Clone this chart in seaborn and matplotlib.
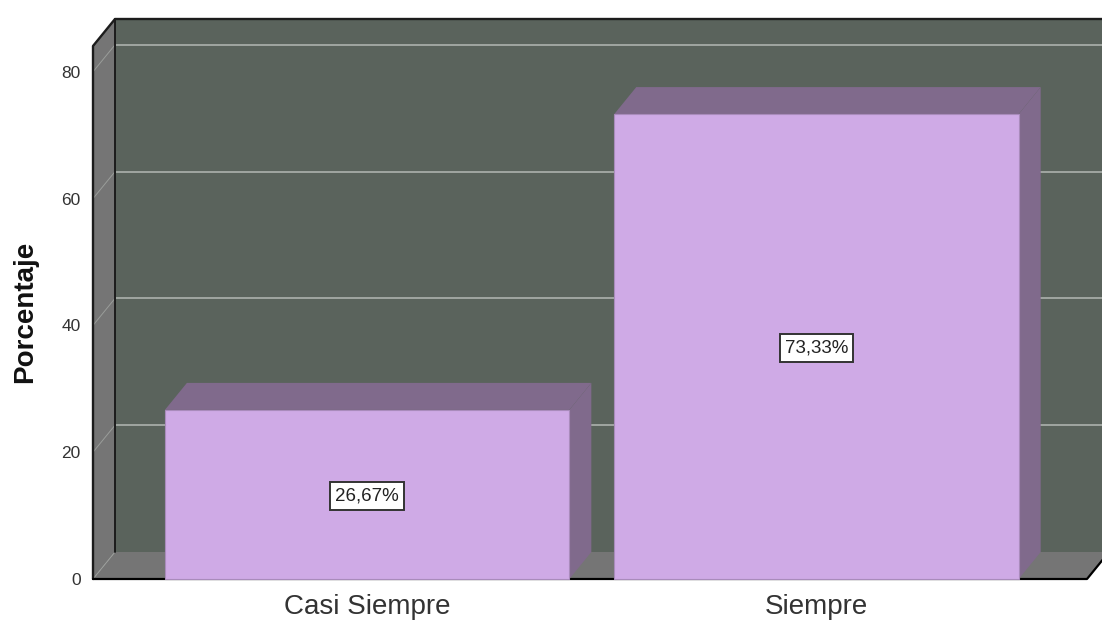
import matplotlib
matplotlib.use("Agg")
import matplotlib.pyplot as plt
from matplotlib.patches import Polygon
import pandas as pd
import seaborn as sns

categories = ["Casi Siempre", "Siempre"]
percentages = [26.67, 73.33]
bar_labels = ["26,67%", "73,33%"]
y_ticks = [0, 20, 40, 60, 80]

# colours
wall_color = "#5a635c"
side_color = "#757575"
bar_color = "#cfaae6"
bar_dark = "#806a8c"
grid_color = "#b4b8b4"
edge_color = "#1c1c1c"

sns.set_theme(style="white")
plt.rcParams["font.family"] = ["Liberation Sans", "DejaVu Sans"]

W, H = 1102, 620
fig = plt.figure(figsize=(W / 100, H / 100), dpi=100)
ax = fig.add_axes([93 / W, (H - 579) / H, (1087 - 93) / W, (579 - 46) / H])

df = pd.DataFrame({"cat": categories, "pct": percentages})
sns.barplot(data=df, x="cat", y="pct", color=bar_color, saturation=1, width=0.9,
            edgecolor="#a98bbb", linewidth=0.8, zorder=5, clip_on=False, ax=ax)

ax.set_xlim(-0.61, 1.602)
ax.set_ylim(0, 84.07)

# depth of the fake 3D box, in data units
dx = 22 / (994 / (1.602 + 0.61))
dy = 27 / (533 / 84.07)
x0, x1 = ax.get_xlim()
y0, y1 = ax.get_ylim()


def poly(pts, color, z):
    ax.add_patch(Polygon(pts, closed=True, facecolor=color, edgecolor="none",
                         clip_on=False, zorder=z))


def line(xs, ys, color, lw, z):
    ax.plot(xs, ys, color=color, lw=lw, clip_on=False, zorder=z,
            solid_capstyle="round")


# back wall, left wall and floor
poly([(x0 + dx, y0 + dy), (x1 + dx, y0 + dy), (x1 + dx, y1 + dy), (x0 + dx, y1 + dy)], wall_color, 1)
poly([(x0, y0), (x0 + dx, y0 + dy), (x0 + dx, y1 + dy), (x0, y1)], side_color, 1)
poly([(x0, y0), (x1, y0), (x1 + dx, y0 + dy), (x0 + dx, y0 + dy)], side_color, 1)

# gridlines go round the box
for t in y_ticks:
    if t > 0:
        line([x0 + dx, x1 + dx], [t + dy, t + dy], grid_color, 1.1, 2)
    line([x0, x0 + dx], [t, t + dy], "#9a9d9a", 0.7, 2)

# box edges
line([x0, x0, x0 + dx, x1 + dx], [y0, y1, y1 + dy, y1 + dy], edge_color, 1.7, 3)
line([x0 + dx, x0 + dx], [y0 + dy, y1 + dy], edge_color, 1.4, 3)
line([x0, x1, x1 + dx], [y0, y0, y0 + dy], "#000000", 1.6, 3)

# top and side faces of the bars
for bar in ax.patches:
    if bar.get_zorder() != 5:
        continue
    left, right, top = bar.get_x(), bar.get_x() + bar.get_width(), bar.get_height()
    poly([(left, top), (right, top), (right + dx, top + dy), (left + dx, top + dy)], bar_dark, 4)
    poly([(right, 0), (right + dx, dy), (right + dx, top + dy), (right, top)], bar_dark, 4)

for i, (v, lab) in enumerate(zip(percentages, bar_labels)):
    ax.text(i, v / 2 - 0.25, lab, ha="center", va="center", fontsize=13.5, color="#222222", zorder=7,
            bbox=dict(boxstyle="square,pad=0.28", facecolor="white", edgecolor="#333333", linewidth=1.4))

ax.set_yticks(y_ticks)
ax.set_xticks(range(len(categories)))
ax.set_xticklabels(categories, fontsize=20, color="#333333")
ax.tick_params(axis="x", length=0, pad=11)
ax.tick_params(axis="y", length=0, pad=9, labelsize=12.5, labelcolor="#333333")
ax.set_xlabel("")
ax.set_ylabel("Porcentaje", fontsize=20, fontweight="bold", color="#111111")
ax.yaxis.set_label_coords((38 - 93) / 994, (579 - 312) / 533)
for s in ax.spines.values():
    s.set_visible(False)
ax.patch.set_visible(False)

fig.savefig("out.png", dpi=100)
